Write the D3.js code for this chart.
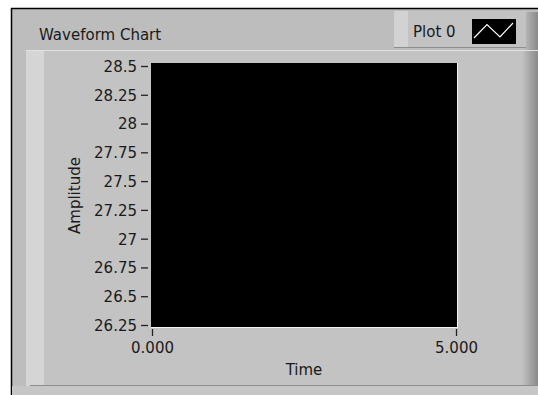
<!DOCTYPE html>
<html>
<head>
<meta charset="utf-8">
<script src="https://cdn.jsdelivr.net/npm/d3@7"></script>
<style>
  body { margin: 0; background: #fff; }
  svg { display: block; font-family: "DejaVu Sans", sans-serif; }
</style>
</head>
<body>
<div id="chart"></div>
<script>
const chartTitle = "Waveform Chart";
const plotNames = ["Plot 0"];
const yTicks = [26.25, 26.5, 26.75, 27, 27.25, 27.5, 27.75, 28, 28.25, 28.5];
const xTicks = [0, 5];
const yLabel = "Amplitude";
const xLabel = "Time";
const seriesValues = []; // chart has no data yet

const width = 538, height = 395;
const svg = d3.select("#chart").append("svg")
    .attr("width", width)
    .attr("height", height);

const defs = svg.append("defs");
const shade = defs.append("linearGradient").attr("id", "rshade");
shade.append("stop").attr("offset", "0%").attr("stop-color", "#c2c2c2");
shade.append("stop").attr("offset", "100%").attr("stop-color", "#8a8a8a");

// outer panel
svg.append("rect").attr("x", 11).attr("y", 8).attr("width", width).attr("height", height)
    .attr("fill", "#bdbdbd");
svg.append("line").attr("x1", 11.5).attr("x2", 11.5).attr("y1", 8).attr("y2", height)
    .attr("stroke", "#000").attr("stroke-width", 1.5);
svg.append("line").attr("x1", 11).attr("x2", width).attr("y1", 8.5).attr("y2", 8.5)
    .attr("stroke", "#000").attr("stroke-width", 1.5);

// inner frame
svg.append("rect").attr("x", 26).attr("y", 50).attr("width", 512).attr("height", 336)
    .attr("fill", "#c3c3c3");
svg.append("rect").attr("x", 26).attr("y", 50).attr("width", 18).attr("height", 336)
    .attr("fill", "#d5d5d5");
svg.append("rect").attr("x", 522).attr("y", 12).attr("width", 16).attr("height", 374)
    .attr("fill", "url(#rshade)");
svg.append("line").attr("x1", 26).attr("x2", 538).attr("y1", 50.5).attr("y2", 50.5)
    .attr("stroke", "#e2e2e2");
svg.append("line").attr("x1", 30).attr("x2", 538).attr("y1", 385.5).attr("y2", 385.5)
    .attr("stroke", "#8e8e8e");
svg.append("rect").attr("x", 12).attr("y", 386).attr("width", 526).attr("height", 9)
    .attr("fill", "#c6c6c6");

// title
svg.append("text").attr("x", 39).attr("y", 40)
    .attr("font-size", 15).attr("fill", "#1a1a1a")
    .text(chartTitle);

// legend
const legend = svg.append("g");
legend.append("rect").attr("x", 394).attr("y", 11).attr("width", 132).attr("height", 36)
    .attr("fill", "#c3c3c3");
legend.append("rect").attr("x", 394).attr("y", 11).attr("width", 14).attr("height", 36)
    .attr("fill", "#d2d2d2");
legend.append("line").attr("x1", 394).attr("x2", 526).attr("y1", 47.5).attr("y2", 47.5)
    .attr("stroke", "#8e8e8e");
legend.selectAll("text.name").data(plotNames).join("text")
    .attr("class", "name")
    .attr("x", 413).attr("y", 37)
    .attr("font-size", 15).attr("fill", "#1a1a1a")
    .text(d => d);
legend.append("rect").attr("x", 472).attr("y", 19).attr("width", 44).attr("height", 25)
    .attr("fill", "#000");
const sw = d3.scaleLinear().domain([0, 3]).range([474, 513]);
const swy = d3.scaleLinear().domain([0, 1]).range([38, 23]);
legend.append("path")
    .attr("d", d3.line().x((d, i) => sw(i)).y(d => swy(d))([0, 0.9, 0.07, 1]))
    .attr("fill", "none").attr("stroke", "#fff").attr("stroke-width", 1.2);

// plot area
const plot = { left: 151, right: 457, top: 63, bottom: 327 };
const x = d3.scaleLinear().domain([0, 5]).range([152, 456]);
const y = d3.scaleLinear().domain([26.25, 28.5]).range([325, 66]);

svg.append("rect")
    .attr("x", plot.left).attr("y", plot.top)
    .attr("width", plot.right - plot.left).attr("height", plot.bottom - plot.top)
    .attr("fill", "#000");
svg.append("path")
    .attr("d", `M${plot.right + 0.5},${plot.top}V${plot.bottom + 0.5}H${plot.left}`)
    .attr("fill", "none").attr("stroke", "#f2f2f2");

svg.append("path")
    .attr("d", d3.line().x((d, i) => x(i)).y(d => y(d))(seriesValues))
    .attr("fill", "none").attr("stroke", "#fff");

// y axis
const yAxis = d3.axisLeft(y).tickValues(yTicks).tickSize(7).tickPadding(4)
    .tickFormat(d => String(d));
const gy = svg.append("g").attr("transform", `translate(148,0)`).call(yAxis);
gy.select(".domain").remove();
gy.selectAll(".tick line").attr("stroke", "#222").attr("stroke-width", 1.3);
gy.selectAll(".tick text").attr("font-size", 15).attr("fill", "#1a1a1a")
    .attr("font-family", "DejaVu Sans").attr("dy", "0.36em");

// x axis
const xAxis = d3.axisBottom(x).tickValues(xTicks).tickSize(7).tickPadding(6)
    .tickFormat(d3.format(".3f"));
const gx = svg.append("g").attr("transform", `translate(0,329)`).call(xAxis);
gx.select(".domain").remove();
gx.selectAll(".tick line").attr("stroke", "#222").attr("stroke-width", 1.3);
gx.selectAll(".tick text").attr("font-size", 15).attr("fill", "#1a1a1a")
    .attr("font-family", "DejaVu Sans");

// axis titles
svg.append("text")
    .attr("transform", `translate(80,${(y(26.25) + y(28.5)) / 2}) rotate(-90)`)
    .attr("text-anchor", "middle")
    .attr("font-size", 15).attr("fill", "#1a1a1a")
    .text(yLabel);
svg.append("text")
    .attr("x", (x(0) + x(5)) / 2).attr("y", 375)
    .attr("text-anchor", "middle")
    .attr("font-size", 15).attr("fill", "#1a1a1a")
    .text(xLabel);
</script>
</body>
</html>
